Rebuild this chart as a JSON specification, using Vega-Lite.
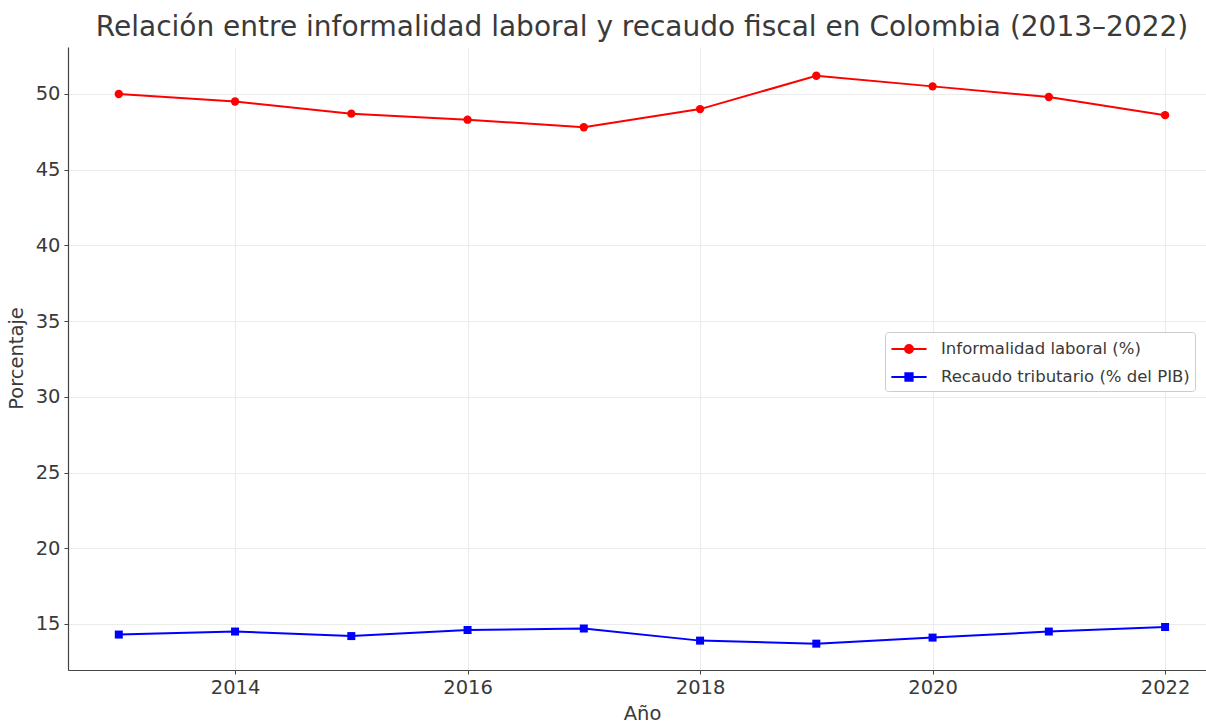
{
  "$schema": "https://vega.github.io/schema/vega-lite/v6.json",
  "width": 1138,
  "height": 623,
  "autosize": {"type": "none"},
  "padding": {"left": 68, "top": 47, "right": 0, "bottom": 54},
  "background": "white",
  "title": {
    "text": "Relación entre informalidad laboral y recaudo fiscal en Colombia (2013–2022)",
    "font": "DejaVu Sans",
    "fontSize": 28,
    "fontWeight": "normal",
    "color": "#3a3a3a",
    "anchor": "middle",
    "dx": 5,
    "offset": 5
  },
  "config": {
    "view": {"stroke": null},
    "font": "DejaVu Sans"
  },
  "data": {
    "values": [
      {"anio": 2013, "serie": "Informalidad laboral (%)", "valor": 50.0},
      {"anio": 2014, "serie": "Informalidad laboral (%)", "valor": 49.5},
      {"anio": 2015, "serie": "Informalidad laboral (%)", "valor": 48.7},
      {"anio": 2016, "serie": "Informalidad laboral (%)", "valor": 48.3},
      {"anio": 2017, "serie": "Informalidad laboral (%)", "valor": 47.8},
      {"anio": 2018, "serie": "Informalidad laboral (%)", "valor": 49.0},
      {"anio": 2019, "serie": "Informalidad laboral (%)", "valor": 51.2},
      {"anio": 2020, "serie": "Informalidad laboral (%)", "valor": 50.5},
      {"anio": 2021, "serie": "Informalidad laboral (%)", "valor": 49.8},
      {"anio": 2022, "serie": "Informalidad laboral (%)", "valor": 48.6},
      {"anio": 2013, "serie": "Recaudo tributario (% del PIB)", "valor": 14.3},
      {"anio": 2014, "serie": "Recaudo tributario (% del PIB)", "valor": 14.5},
      {"anio": 2015, "serie": "Recaudo tributario (% del PIB)", "valor": 14.2},
      {"anio": 2016, "serie": "Recaudo tributario (% del PIB)", "valor": 14.6},
      {"anio": 2017, "serie": "Recaudo tributario (% del PIB)", "valor": 14.7},
      {"anio": 2018, "serie": "Recaudo tributario (% del PIB)", "valor": 13.9},
      {"anio": 2019, "serie": "Recaudo tributario (% del PIB)", "valor": 13.7},
      {"anio": 2020, "serie": "Recaudo tributario (% del PIB)", "valor": 14.1},
      {"anio": 2021, "serie": "Recaudo tributario (% del PIB)", "valor": 14.5},
      {"anio": 2022, "serie": "Recaudo tributario (% del PIB)", "valor": 14.8}
    ]
  },
  "encoding": {
    "x": {
      "field": "anio",
      "type": "quantitative",
      "scale": {"domain": [2012.563, 2022.352], "nice": false, "zero": false},
      "axis": {
        "title": "Año",
        "values": [2014, 2016, 2018, 2020, 2022],
        "format": "d",
        "labelFont": "DejaVu Sans",
        "labelFontSize": 19.5,
        "labelColor": "#3a3a3a",
        "labelPadding": 4,
        "labelFlush": false,
        "titleFont": "DejaVu Sans",
        "titleFontSize": 19.5,
        "titleFontWeight": "normal",
        "titleColor": "#3a3a3a",
        "titleX": 574,
        "titleY": 49,
        "titleBaseline": "alphabetic",
        "titleAlign": "center",
        "domainColor": "#444444",
        "domainWidth": 1.2,
        "tickColor": "#444444",
        "tickSize": 4,
        "grid": true,
        "gridColor": "#ebebeb",
        "gridWidth": 1
      }
    },
    "y": {
      "field": "valor",
      "type": "quantitative",
      "scale": {"domain": [11.96, 53.1], "nice": false, "zero": false},
      "axis": {
        "title": "Porcentaje",
        "values": [15, 20, 25, 30, 35, 40, 45, 50],
        "labelFont": "DejaVu Sans",
        "labelFontSize": 19.5,
        "labelColor": "#3a3a3a",
        "labelPadding": 4,
        "labelFlush": false,
        "titleFont": "DejaVu Sans",
        "titleFontSize": 19.5,
        "titleFontWeight": "normal",
        "titleColor": "#3a3a3a",
        "titleX": -46,
        "titleY": 311,
        "titleAngle": -90,
        "titleBaseline": "alphabetic",
        "titleAlign": "center",
        "domainColor": "#444444",
        "domainWidth": 1.2,
        "tickColor": "#444444",
        "tickSize": 4,
        "grid": true,
        "gridColor": "#ebebeb",
        "gridWidth": 1
      }
    },
    "color": {
      "field": "serie",
      "type": "nominal",
      "scale": {
        "domain": ["Informalidad laboral (%)", "Recaudo tributario (% del PIB)"],
        "range": ["#ff0000", "#0000ff"]
      }
    }
  },
  "layer": [
    {
      "mark": {"type": "line", "strokeWidth": 2}
    },
    {
      "transform": [{"filter": "datum.serie === 'Informalidad laboral (%)'"}],
      "mark": {"type": "point", "shape": "circle", "filled": true, "size": 70, "opacity": 1}
    },
    {
      "transform": [{"filter": "datum.serie === 'Recaudo tributario (% del PIB)'"}],
      "mark": {"type": "point", "shape": "square", "filled": true, "size": 64, "opacity": 1}
    },
    {
      "mark": {"type": "point", "filled": true, "opacity": 0},
      "encoding": {
        "shape": {
          "field": "serie",
          "type": "nominal",
          "scale": {
            "domain": ["Informalidad laboral (%)", "Recaudo tributario (% del PIB)"],
            "range": [
              "M-1.6,0H1.6M-0.36,0A0.36,0.36,0,1,0,0.36,0A0.36,0.36,0,1,0,-0.36,0Z",
              "M-1.6,0H1.6M-0.33,-0.33H0.33V0.33H-0.33Z"
            ]
          },
          "legend": {
            "title": null,
            "orient": "none",
            "legendX": 817,
            "legendY": 285,
            "fillColor": "white",
            "strokeColor": "#cccccc",
            "cornerRadius": 3,
            "padding": 5,
            "symbolSize": 484,
            "symbolOffset": 7,
            "symbolStrokeWidth": 2,
            "symbolOpacity": 1,
            "labelOffset": 20,
            "labelLimit": 400,
            "labelFont": "DejaVu Sans",
            "labelFontSize": 16.5,
            "labelColor": "#3a3a3a",
            "rowPadding": 7
          }
        }
      }
    }
  ]
}
